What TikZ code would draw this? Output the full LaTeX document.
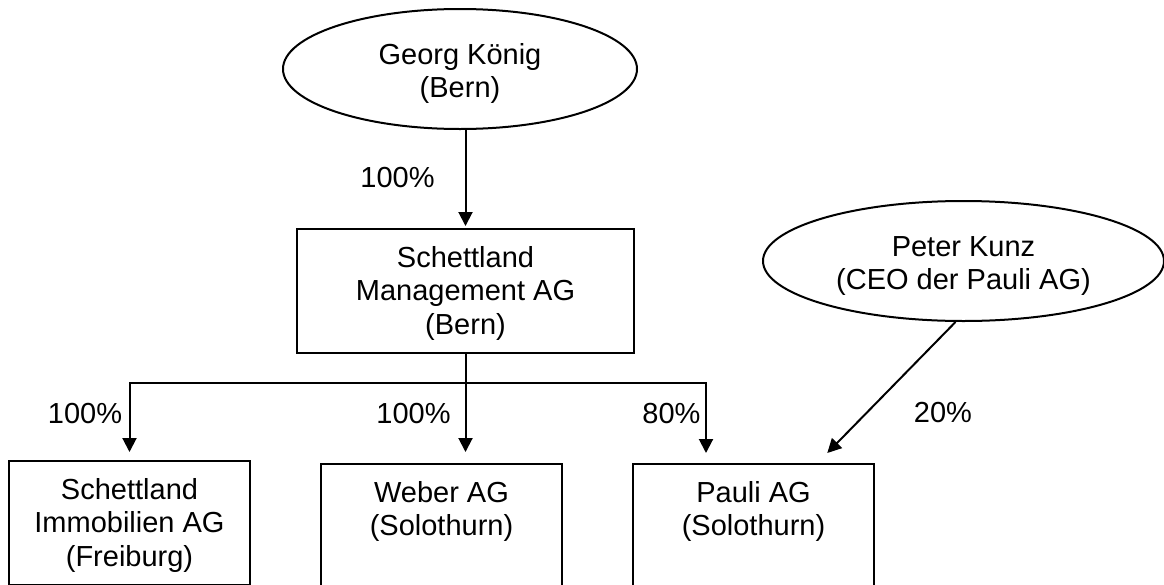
\documentclass[tikz,border=0pt]{standalone}
\usepackage{fontspec}
\setmainfont{Liberation Sans}
\usetikzlibrary{shapes.geometric, arrows.meta}
\newcommand{\namelines}[1]{\begin{tabular}[t]{@{}c@{}}#1\end{tabular}}
\begin{document}
\begin{tikzpicture}[x=1pt, y=-1pt, line width=2pt,
        font=\fontsize{29}{33.5}\selectfont,
        >={Triangle[length=14pt, width=14pt]},
        firm/.style={draw, rectangle, inner sep=0pt, minimum height=124pt, text height=20pt, text depth=68pt},
        owner/.style={draw, ellipse, inner sep=0pt, minimum height=120pt, text height=20pt, text depth=30pt},
        share/.style={anchor=base}]
        \useasboundingbox (0, 0) rectangle (1164, 584);
        \clip (0, 0) rectangle (1164, 584);

        % Owners
        \node[owner, minimum width=354pt] (georg) at (460, 69) {\namelines{Georg König\\(Bern)}};
        \node[owner, minimum width=401pt] (peter) at (963.5, 261) {\namelines{Peter Kunz\\(CEO der Pauli AG)}};

        % Companies
        \node[firm, minimum width=337pt] (mgmt) at (465.5, 291) {\namelines{Schettland\\Management AG\\(Bern)}};
        \node[firm, minimum width=241pt] (immo) at (129.5, 523) {\namelines{Schettland\\Immobilien AG\\(Freiburg)}};
        \node[firm, minimum width=241pt] (weber) at (441.5, 526) {\namelines{Weber AG\\(Solothurn)}};
        \node[firm, minimum width=241pt] (pauli) at (753.5, 526) {\namelines{Pauli AG\\(Solothurn)}};

        % Holdings
        \coordinate (bus) at (465.5, 383);
        \draw[->, shorten >=2pt] (georg.south -| mgmt.north) -- (mgmt.north);
        \draw (mgmt.south) -- (bus);
        \draw[->, shorten >=8pt] (bus) -| (immo.north);
        \draw[->, shorten >=11pt] (bus) -- (bus |- weber.north);
        \draw[->, shorten >=10pt] (bus) -| ([xshift=-47.5pt]pauli.north);
        \draw[->, shorten >=14pt] ([xshift=-8pt]peter.south) -- ([xshift=64pt]pauli.north);

        % Shares
        \node[share] (s georg) at (397.5, 187) {100\%};
        \node[share] (s immo) at (85, 423) {100\%};
        \node[share] (s weber) at (413.5, 423) {100\%};
        \node[share] (s pauli) at (671.5, 423) {80\%};
        \node[share] (s peter) at (943, 422) {20\%};

    \end{tikzpicture}
\end{document}
